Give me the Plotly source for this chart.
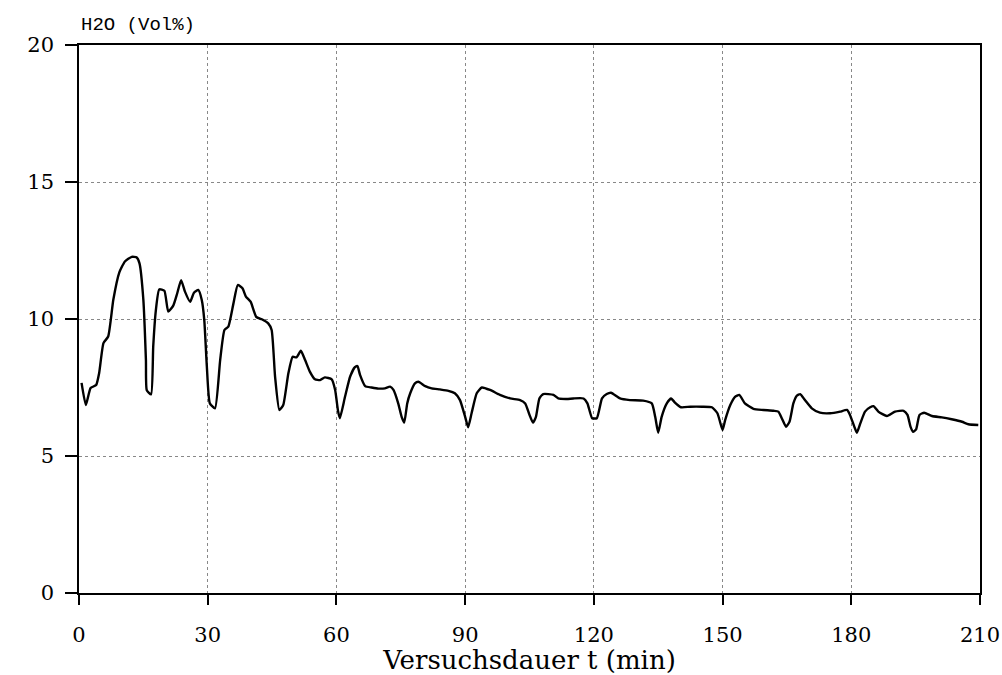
import plotly.graph_objects as go

t_min = [0.6, 1.6, 2.7, 4.0, 4.7, 5.7, 6.8, 8.0, 9.4, 10.7, 12.3, 13.4, 14.1, 15.0, 15.6, 15.8, 16.8,
         17.3, 17.9, 18.7, 19.9, 20.8, 22.0, 22.9, 23.8, 24.7, 25.9, 26.8, 27.8, 28.6, 29.2, 29.8,
         30.5, 31.7, 32.9, 33.9, 34.8, 36.0, 37.0, 38.1, 38.9, 40.0, 41.3, 42.6, 44.1, 44.9, 45.7,
         46.7, 47.6, 48.8, 49.8, 50.7, 51.7, 52.7, 53.8, 55.0, 56.2, 57.3, 58.9, 59.7, 60.4, 60.8,
         62.0, 63.2, 64.3, 64.9, 65.5, 66.7, 68.2, 69.8, 71.3, 72.5, 73.3, 74.4, 75.2, 75.8, 76.5,
         77.2, 78.3, 79.1, 80.7, 82.2, 84.1, 86.1, 87.6, 88.8, 90.0, 90.7, 91.5, 92.7, 93.9, 95.8,
         98.1, 100.5, 102.8, 104.0, 105.0, 105.8, 106.5, 107.3, 108.2, 110.6, 111.7, 113.7, 115.2,
         117.6, 118.5, 119.6, 120.7, 121.9, 123.0, 124.0, 126.1, 128.4, 131.5, 133.5, 134.3, 135.0,
         135.8, 137.0, 138.0, 138.9, 140.3, 142.5, 145.2, 147.5, 148.8, 149.4, 150.0, 150.6, 151.8,
         152.9, 153.9, 155.2, 157.2, 159.5, 161.9, 163.0, 163.8, 164.8, 165.6, 166.5, 167.3, 168.1,
         169.2, 170.8, 172.7, 175.1, 177.4, 179.0, 179.7, 180.7, 181.3, 182.1, 183.2, 184.4, 185.2,
         186.3, 188.3, 190.2, 192.2, 193.1, 193.8, 194.4, 195.1, 195.9, 197.0, 198.8, 201.1, 203.4,
         205.8, 207.3, 209.6]
h2o_vol = [7.67, 6.86, 7.48, 7.59, 8.03, 9.12, 9.36, 10.7, 11.7, 12.1, 12.27, 12.25, 12.03, 10.7, 8.5,
           7.4, 7.25, 9.0, 10.3, 11.08, 11.03, 10.27, 10.5, 10.94, 11.42, 11.0, 10.63, 10.96, 11.06,
           10.7, 9.96, 8.26, 6.92, 6.74, 8.5, 9.6, 9.72, 10.57, 11.24, 11.12, 10.82, 10.63, 10.08,
           9.99, 9.84, 9.6, 7.9, 6.68, 6.86, 8.02, 8.62, 8.6, 8.84, 8.5, 8.08, 7.8, 7.77, 7.87, 7.8,
           7.41, 6.62, 6.38, 7.16, 7.9, 8.24, 8.28, 7.96, 7.55, 7.5, 7.46, 7.47, 7.53, 7.41, 6.92,
           6.43, 6.22, 6.92, 7.29, 7.65, 7.71, 7.55, 7.47, 7.43, 7.38, 7.29, 7.04, 6.43, 6.05, 6.56,
           7.29, 7.5, 7.41, 7.23, 7.1, 7.04, 6.92, 6.5, 6.22, 6.43, 7.1, 7.26, 7.23, 7.1, 7.08, 7.1,
           7.1, 6.92, 6.38, 6.38, 7.1, 7.26, 7.31, 7.1, 7.04, 7.02, 6.92, 6.43, 5.85, 6.43, 6.92, 7.1,
           6.95, 6.78, 6.8, 6.8, 6.78, 6.56, 6.25, 5.95, 6.31, 6.86, 7.16, 7.23, 6.92, 6.72, 6.68,
           6.65, 6.62, 6.38, 6.07, 6.25, 6.92, 7.2, 7.26, 7.04, 6.74, 6.58, 6.56, 6.62, 6.68, 6.5,
           6.07, 5.85, 6.19, 6.62, 6.78, 6.82, 6.62, 6.46, 6.62, 6.65, 6.5, 6.07, 5.88, 5.97, 6.5,
           6.58, 6.46, 6.41, 6.34, 6.25, 6.16, 6.13]

x_ticks = [0, 30, 60, 90, 120, 150, 180, 210]
y_ticks = [0, 5, 10, 15, 20]

font_main = "DejaVu Serif"

fig = go.Figure()
fig.add_trace(go.Scatter(x=t_min, y=h2o_vol, mode="lines",
                         line=dict(color="black", width=2.4, shape="spline", smoothing=0.5),
                         showlegend=False, hoverinfo="skip"))

fig.update_layout(
    width=1002, height=675,
    margin=dict(l=79, r=22, t=45, b=82),
    paper_bgcolor="white", plot_bgcolor="white",
    font=dict(family=font_main, color="black"),
    annotations=[
        dict(text="H2O (Vol%)", xref="paper", yref="paper", x=0.0, y=1.0,
             xanchor="left", yanchor="bottom", yshift=7, showarrow=False,
             font=dict(family="Liberation Mono", size=19, color="black")),
    ],
)
fig.update_xaxes(range=[0, 210], tickvals=x_ticks, ticks="outside", ticklen=10, tickwidth=1.5,
                 tickcolor="black", showline=True, linecolor="black", linewidth=1.5, mirror=True,
                 showgrid=True, gridcolor="#888888", griddash="dot", gridwidth=1, zeroline=False,
                 automargin=False, ticklabelstandoff=12,
                 tickfont=dict(size=21, family=font_main),
                 title=dict(text="Versuchsdauer t (min)", font=dict(size=26, family=font_main), standoff=2))
fig.update_yaxes(range=[0, 20], tickvals=y_ticks, ticks="outside", ticklen=12, tickwidth=1.5,
                 tickcolor="black", showline=True, linecolor="black", linewidth=1.5, mirror=True,
                 showgrid=True, gridcolor="#888888", griddash="dot", gridwidth=1, zeroline=False,
                 automargin=False, ticklabelstandoff=7,
                 tickfont=dict(size=21, family=font_main))

fig.write_html("out.html", config={"displayModeBar": False},
               post_script="document.body.style.margin='0';document.body.style.overflow='hidden';")
